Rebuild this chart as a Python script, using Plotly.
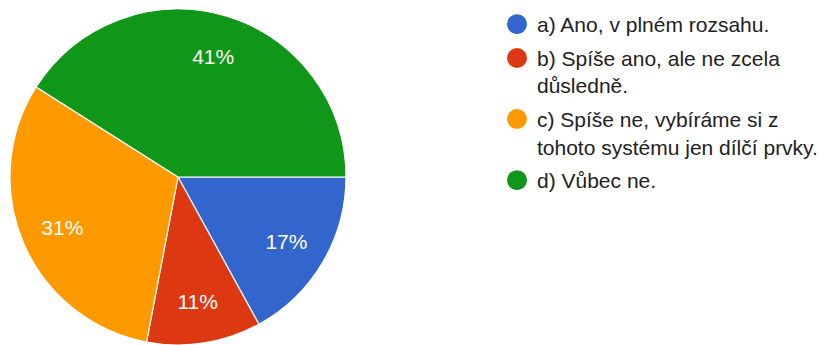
import plotly.graph_objects as go

labels = [
    "a) Ano, v plném rozsahu.",
    "b) Spíše ano, ale ne zcela<br>důsledně.",
    "c) Spíše ne, vybíráme si z<br>tohoto systému jen dílčí prvky.",
    "d) Vůbec ne.",
]
values = [17, 11, 31, 41]
colors = ["#3366cc", "#dc3912", "#ff9900", "#109618"]

W, H = 823, 345
FONT = "Arial, Liberation Sans, sans-serif"
DOMAIN = dict(x=[10 / W, 346 / W], y=[0, 336 / H])

fig = go.Figure()
# filled pie (no text)
fig.add_trace(go.Pie(
    labels=labels,
    values=values,
    sort=False,
    direction="clockwise",
    rotation=90,
    marker=dict(colors=colors, line=dict(color="white", width=1.2)),
    textinfo="none",
    showlegend=False,
    hoverinfo="label+percent",
    domain=DOMAIN,
))
# transparent ring carrying the percentage labels further out
fig.add_trace(go.Pie(
    labels=labels,
    values=values,
    sort=False,
    direction="clockwise",
    rotation=90,
    hole=0.5,
    marker=dict(colors=["rgba(0,0,0,0)"] * len(values),
                line=dict(color="rgba(0,0,0,0)", width=0)),
    textinfo="percent",
    textposition="inside",
    insidetextorientation="horizontal",
    textfont=dict(color="white", size=21, family=FONT),
    showlegend=False,
    hoverinfo="skip",
    domain=DOMAIN,
))

# legend entries with circular symbols
for i, (lab, col) in enumerate(zip(labels, colors)):
    fig.add_trace(go.Scatter(
        x=[None], y=[None], mode="markers", name=lab,
        legendgroup=f"g{i}",
        marker=dict(color=col, size=16, symbol="circle",
                    line=dict(color=col, width=4)),
    ))

fig.update_layout(
    width=W, height=H,
    margin=dict(l=0, r=0, t=0, b=0),
    paper_bgcolor="white",
    plot_bgcolor="white",
    xaxis=dict(visible=False),
    yaxis=dict(visible=False),
    font=dict(family=FONT, size=21, color="#222222"),
    legend=dict(
        x=497 / W, xanchor="left",
        y=1 - 4 / H, yanchor="top",
        valign="top",
        tracegroupgap=3.5,
        font=dict(size=21, color="#222222", family=FONT),
        bgcolor="rgba(0,0,0,0)",
    ),
)

fig.write_html("out.html")
